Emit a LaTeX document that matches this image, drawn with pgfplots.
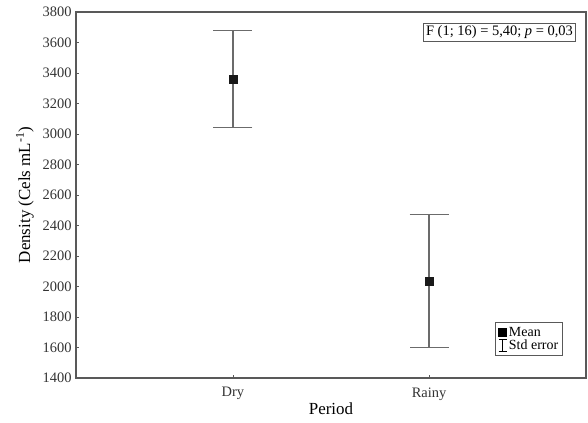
\documentclass[border=0pt]{standalone}
\usepackage{pgfplots}
\pgfplotsset{compat=1.18}
\usepackage{fontspec}
\setmainfont{Liberation Serif}
\definecolor{axgray}{gray}{0.35}
\definecolor{ebgray}{gray}{0.42}
\begin{document}
\begin{tikzpicture}
\useasboundingbox (0,0) rectangle (588bp,423bp);
\begin{axis}[
  at={(76bp,45bp)}, anchor=south west,
  scale only axis, width=510bp, height=366bp,
  xmin=-0.8, xmax=1.8, ymin=1400, ymax=3800,
  xtick={0,1}, xticklabels={Dry,Rainy},
  ytick={1400,1600,...,3800},
  xtick pos=bottom, ytick pos=left,
  tick align=inside, major tick length=3bp,
  axis line style={axgray, line width=1.1pt},
  tick style={axgray, line width=0.6pt},
  /pgf/number format/assume math mode=true,
  /pgf/number format/1000 sep={},
  ticklabel style={font=\fontsize{14.5}{16}\selectfont, text=black!80},
  yticklabel style={xshift=-1bp},
  xticklabel style={yshift=-6bp},
  xlabel={Period}, ylabel={Density (Cels mL\textsuperscript{-1})},
  label style={font=\fontsize{17}{19}\selectfont},
  xlabel style={yshift=4bp},
  ylabel style={yshift=2bp},
  legend style={at={(0.955,0.06)}, anchor=south east, draw=axgray, line width=0.8pt,
    font=\fontsize{14}{15}\selectfont, inner xsep=2.5pt, inner ysep=2.5pt, row sep=-2pt,
    /tikz/every even column/.append style={column sep=0pt}},
  legend cell align=left,
  legend image code/.code={\fill[black] (0bp,-4bp) rectangle (8bp,4bp);},
]
\addplot[only marks, mark=square*, mark size=4bp, color=black!90,
  error bars/.cd, y dir=both, y explicit,
  error bar style={ebgray, line width=1.2pt},
  error mark options={ebgray, line width=1.2pt, mark size=19.5bp, rotate=90}]
  coordinates {(0,3362) +- (0,318) (1,2036) +- (0,438)};
\addlegendentry{Mean}
\addlegendimage{legend image code/.code={
  \draw[black, line width=0.7pt] (4bp,-6bp) -- (4bp,6bp);
  \draw[black, line width=0.7pt] (0bp,6bp) -- (8bp,6bp);
  \draw[black, line width=0.7pt] (0bp,-6bp) -- (8bp,-6bp);}}
\addlegendentry{Std error}
\node[draw=axgray, line width=1pt, anchor=north east, inner sep=2.5pt,
  font=\fontsize{14.5}{16}\selectfont] at (rel axis cs:0.98,0.97)
  {F (1; 16) = 5,40; \textit{p} = 0,03};
\end{axis}
\end{tikzpicture}
\end{document}
